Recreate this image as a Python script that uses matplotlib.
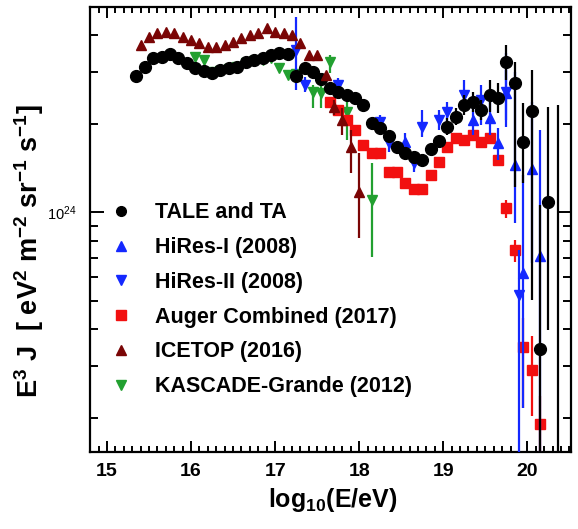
import matplotlib
matplotlib.use("Agg")
import matplotlib.pyplot as plt
import numpy as np
from matplotlib.lines import Line2D
from matplotlib.ticker import FixedLocator, MultipleLocator, NullFormatter, FixedFormatter

plt.rcParams["font.family"] = ["Liberation Sans", "DejaVu Sans"]
plt.rcParams["mathtext.fontset"] = "custom"
plt.rcParams["mathtext.rm"] = "Liberation Sans:bold"
plt.rcParams["mathtext.bf"] = "Liberation Sans:bold"
plt.rcParams["mathtext.default"] = "bf"

# flux values in units of 1e24 eV^2 m^-2 sr^-1 s^-1
tale_x = [round(15.35 + 0.1 * i, 2) for i in range(50)]
tale_y = [2.91, 3.13, 3.35, 3.38, 3.46, 3.35, 3.22, 3.10, 3.03, 2.98,
          3.05, 3.10, 3.13, 3.25, 3.30, 3.35, 3.43, 3.49, 3.46, 2.91,
          3.10, 3.00, 2.84, 2.65, 2.57, 2.51, 2.45, 2.32, 2.01, 1.94,
          1.82, 1.67, 1.59, 1.54, 1.50, 1.64, 1.75, 1.95, 2.11, 2.32,
          2.37, 2.23, 2.51, 2.45, 3.25, 2.76, 1.73, 2.21, 0.343, 1.08]
tale_bar_x = [19.05, 19.15, 19.25, 19.35, 19.45, 19.55, 19.65, 19.75, 19.85, 19.95, 20.05, 20.15, 20.25, 20.36]
tale_bar_lo = [1.83, 1.98, 2.14, 2.19, 2.06, 2.19, 2.18, 2.82, 1.22, 1.26, 0.501, 0.10, 0.396, 0.10]
tale_bar_hi = [2.09, 2.26, 2.51, 2.57, 2.41, 2.82, 2.76, 3.72, 3.25, 2.35, 3.05, 1.06, 2.28, 2.32]

hr1_x = [18.55, 19.35, 19.55, 19.65, 19.75, 19.85, 19.95, 20.05, 20.15]
hr1_y = [1.73, 2.06, 2.09, 1.72, 2.55, 1.45, 0.619, 1.40, 0.708]
hr1_lo = [1.63, 1.83, 1.83, 1.50, 1.95, 0.917, 0.216, 0.670, 0.10]
hr1_hi = [1.86, 2.32, 2.41, 1.94, 3.49, 3.00, 1.34, 2.37, 1.91]

hr2_x = [17.25, 17.35, 17.75, 18.25, 18.35, 18.65, 18.75, 18.95, 19.05, 19.25, 19.45, 19.75, 19.9]
hr2_y = [3.57, 2.71, 2.71, 2.03, 1.72, 1.47, 1.95, 2.06, 2.19, 2.51, 2.41, 2.57, 0.521]
hr2_lo = [2.61, 2.57, 2.51, 1.91, 1.60, 1.37, 1.80, 1.91, 1.98, 2.23, 1.98, 2.06, 0.10]
hr2_hi = [4.63, 2.89, 2.87, 2.14, 1.83, 1.56, 2.23, 2.23, 2.37, 2.82, 2.71, 3.05, 0.742]

aug_x = [round(17.65 + 0.1 * i, 2) for i in range(26)]
aug_y = [2.37, 2.23, 2.06, 1.91, 1.69, 1.59, 1.59, 1.37, 1.37, 1.26,
         1.20, 1.20, 1.34, 1.48, 1.67, 1.79, 1.76, 1.83, 1.73, 1.79,
         1.50, 1.03, 0.742, 0.349, 0.291, 0.190]
aug_bar_x = [19.75, 19.85, 19.95, 20.05, 20.15]
aug_bar_lo = [0.954, 0.675, 0.216, 0.203, 0.15]
aug_bar_hi = [1.10, 0.802, 0.435, 0.380, 0.237]

ice_x = [round(15.4 + 0.1 * i, 2) for i in range(27)]
ice_y = [3.72, 3.96, 4.08, 4.11, 4.08, 3.96, 3.86, 3.77, 3.66, 3.66,
         3.72, 3.80, 3.93, 4.02, 4.08, 4.25, 4.11, 4.08, 4.02, 3.77,
         3.43, 3.43, 2.94, 2.28, 2.06, 1.67, 1.17]
ice_bar_x = [17.7, 17.8, 17.9, 18.0]
ice_bar_lo = [2.14, 1.83, 1.36, 0.82]
ice_bar_hi = [2.41, 2.26, 1.91, 1.59]

kg_x = [16.05, 16.15, 16.25, 16.35, 16.45, 16.55, 16.65, 16.75, 16.85, 16.95,
        17.05, 17.15, 17.25, 17.45, 17.55, 17.65, 17.85, 18.15]
kg_y = [3.38, 3.30, 3.00, 3.03, 3.08, 3.12, 3.22, 3.28, 3.30, 3.35,
        3.10, 2.94, 2.95, 2.57, 2.55, 3.25, 2.19, 1.10]
kg_bar_x = [17.45, 17.55, 17.65, 17.85, 18.15]
kg_bar_lo = [2.26, 2.26, 2.98, 1.76, 0.702]
kg_bar_hi = [2.71, 2.71, 3.43, 2.41, 1.47]

labels = ["TALE and TA", "HiRes-I (2008)", "HiRes-II (2008)",
          "Auger Combined (2017)", "ICETOP (2016)", "KASCADE-Grande (2012)"]

BLACK = "#000000"
BLUE = "#1428ff"
RED = "#f21010"
MAROON = "#7a0505"
GREEN = "#22a030"

S = 1e24
fig = plt.figure(figsize=(5.78, 5.29), dpi=100)
ax = fig.add_axes([0.156, 0.146, 0.832, 0.841])


def bars(x, lo, hi, color, z):
    ax.vlines(x, np.array(lo) * S, np.array(hi) * S, colors=color, lw=1.6, zorder=z)


bars(kg_bar_x, kg_bar_lo, kg_bar_hi, GREEN, 1)
ax.plot(kg_x, np.array(kg_y) * S, "v", color=GREEN, ms=7.5, zorder=2)
bars(aug_bar_x, aug_bar_lo, aug_bar_hi, RED, 3)
ax.plot(aug_x, np.array(aug_y) * S, "s", color=RED, ms=7, zorder=4)
bars(hr2_x, hr2_lo, hr2_hi, BLUE, 5)
ax.plot(hr2_x, np.array(hr2_y) * S, "v", color=BLUE, ms=7.5, zorder=6)
bars(hr1_x, hr1_lo, hr1_hi, BLUE, 5)
ax.plot(hr1_x, np.array(hr1_y) * S, "^", color=BLUE, ms=7.5, zorder=6)
bars(tale_bar_x, tale_bar_lo, tale_bar_hi, BLACK, 7)
ax.plot(tale_x, np.array(tale_y) * S, "o", color=BLACK, ms=8.5, zorder=8)
bars(ice_bar_x, ice_bar_lo, ice_bar_hi, MAROON, 9)
ax.plot(ice_x, np.array(ice_y) * S, "^", color=MAROON, ms=7.5, zorder=10)

ax.set_yscale("log")
ax.set_xlim(14.8, 20.52)
ax.set_ylim(1.53e23, 5.0e24)

ax.xaxis.set_major_locator(MultipleLocator(1))
ax.xaxis.set_minor_locator(MultipleLocator(0.1))
ax.yaxis.set_major_locator(FixedLocator([1e24]))
ax.yaxis.set_major_formatter(FixedFormatter([r"10$^{\mathregular{24}}$"]))
ax.yaxis.set_minor_locator(FixedLocator([m * 1e23 for m in range(2, 10)] + [m * 1e24 for m in range(2, 5)]))
ax.yaxis.set_minor_formatter(NullFormatter())

ax.tick_params(axis="both", which="both", direction="in", top=True, right=True, width=1.4)
ax.tick_params(axis="x", which="major", length=8, pad=8, labelsize=14)
ax.tick_params(axis="x", which="minor", length=4)
ax.tick_params(axis="y", which="major", length=10, pad=10, labelsize=10.5)
ax.tick_params(axis="y", which="minor", length=5.5)
for t in ax.get_xticklabels():
    t.set_fontweight("bold")
for sp in ax.spines.values():
    sp.set_linewidth(1.6)

ax.set_xlabel(r"log$_{\mathbf{10}}$(E/eV)", fontsize=18, fontweight="bold")
ax.xaxis.set_label_coords(0.505, -0.078)
ax.set_ylabel(r"E$^{\mathbf{3}}$ J  [ eV$^{\mathbf{2}}$ m$^{\mathbf{-2}}$ sr$^{\mathbf{-1}}$ s$^{\mathbf{-1}}$]",
              fontsize=19.5, fontweight="bold")
ax.yaxis.set_label_coords(-0.092, 0.45)

handles = [Line2D([], [], ls="none", marker="o", color=BLACK, ms=7),
           Line2D([], [], ls="none", marker="^", color=BLUE, ms=7),
           Line2D([], [], ls="none", marker="v", color=BLUE, ms=7),
           Line2D([], [], ls="none", marker="s", color=RED, ms=6.5),
           Line2D([], [], ls="none", marker="^", color=MAROON, ms=7),
           Line2D([], [], ls="none", marker="v", color=GREEN, ms=7)]
leg = ax.legend(handles, labels, loc="upper left", bbox_to_anchor=(0.024, 0.58),
                frameon=False, borderaxespad=0, handlelength=1.0, handletextpad=1.08,
                labelspacing=0.64, prop={"weight": "bold", "size": 15.5})
leg.set_zorder(20)

fig.savefig("out.png", dpi=100)
